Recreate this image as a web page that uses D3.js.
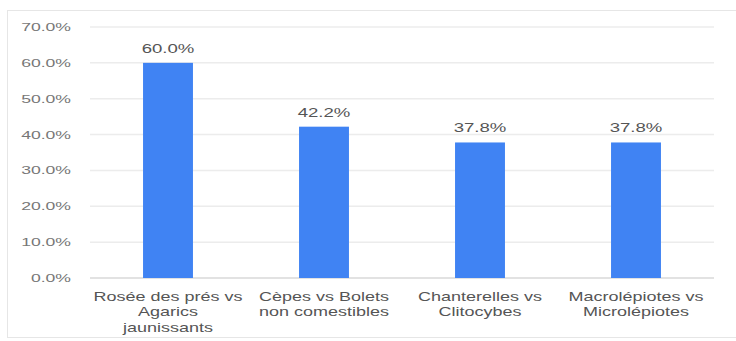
<!DOCTYPE html>
<html>
<head>
<meta charset="utf-8">
<script src="https://cdn.jsdelivr.net/npm/d3@7"></script>
<style>
  html, body { margin: 0; padding: 0; background: #fff; }
  svg { display: block; font-family: Arial, "Liberation Sans", sans-serif; }
</style>
</head>
<body>
<svg id="chart" width="736" height="341"></svg>
<script>
// Share of confusions per mushroom pair
const categories = [
  "Rosée des prés vs Agarics jaunissants",
  "Cèpes vs Bolets non comestibles",
  "Chanterelles vs Clitocybes",
  "Macrolépiotes vs Microlépiotes"
];
const values = [60.0, 42.2, 37.8, 37.8];
const yTicks = [0, 10, 20, 30, 40, 50, 60, 70];

const svg = d3.select("#chart");
const W = 736;
const plot = { left: 90, right: 714, top: 27, bottom: 278 };
const fmt = d => d3.format(".1f")(d) + "%";
// text is drawn wide (horizontally stretched)
const SX = 1.5;

// card frame
svg.append("rect")
  .attr("x", 7.5).attr("y", 10.5)
  .attr("width", W - 7).attr("height", 327)
  .attr("fill", "#fff").attr("stroke", "#e6e6e6");

const x = d3.scaleBand()
  .domain(categories)
  .range([plot.left, plot.right])
  .paddingInner(0.68).paddingOuter(0.34);

const y = d3.scaleLinear().domain([0, 70]).range([plot.bottom, plot.top]);

// gridlines
svg.append("g")
  .selectAll("line")
  .data(yTicks)
  .join("line")
  .attr("x1", plot.left).attr("x2", plot.right)
  .attr("y1", d => y(d)).attr("y2", d => y(d))
  .attr("stroke", d => d === 0 ? "#d8d8d8" : "#ececec")
  .attr("stroke-width", 1.5);

// y axis labels
const yAxis = d3.axisLeft(y)
  .tickValues(yTicks)
  .tickSize(0)
  .tickFormat(fmt);
const gy = svg.append("g").attr("transform", `translate(${plot.left},0)`).call(yAxis);
gy.select(".domain").remove();
gy.selectAll("text")
  .attr("x", 0)
  .attr("transform", "translate(-19,0) scale(1.6,1)")
  .attr("fill", "#777")
  .style("font-size", "11px");

// bars
svg.append("g")
  .selectAll("rect")
  .data(values)
  .join("rect")
  .attr("x", (d, i) => x(categories[i]))
  .attr("width", x.bandwidth())
  .attr("y", d => y(d))
  .attr("height", d => y(0) - y(d))
  .attr("fill", "#4083f3");

// value labels
svg.append("g")
  .selectAll("text")
  .data(values)
  .join("text")
  .attr("transform", (d, i) =>
    `translate(${x(categories[i]) + x.bandwidth() / 2},${y(d) - 10}) scale(1.55,1)`)
  .attr("text-anchor", "middle")
  .attr("fill", "#555")
  .style("font-size", "12px")
  .text(fmt);

// category labels, wrapped
function wrap(text, width) {
  const words = text.split(/\s+/);
  const lines = [];
  let line = [];
  const ctx = document.createElement("canvas").getContext("2d");
  ctx.font = "12px Arial, 'Liberation Sans', sans-serif";
  for (const w of words) {
    const test = line.concat(w).join(" ");
    if (ctx.measureText(test).width > width && line.length) {
      lines.push(line.join(" "));
      line = [w];
    } else line.push(w);
  }
  if (line.length) lines.push(line.join(" "));
  return lines;
}

const gx = svg.append("g");
categories.forEach(c => {
  const lines = wrap(c, 101);
  const t = gx.append("text")
    .attr("transform", `translate(${x(c) + x.bandwidth() / 2},0) scale(${SX},1)`)
    .attr("text-anchor", "middle")
    .attr("fill", "#555")
    .style("font-size", "12px");
  lines.forEach((l, i) => {
    t.append("tspan")
      .attr("x", 0)
      .attr("y", 301 + i * 15.5)
      .text(l);
  });
});
</script>
</body>
</html>
